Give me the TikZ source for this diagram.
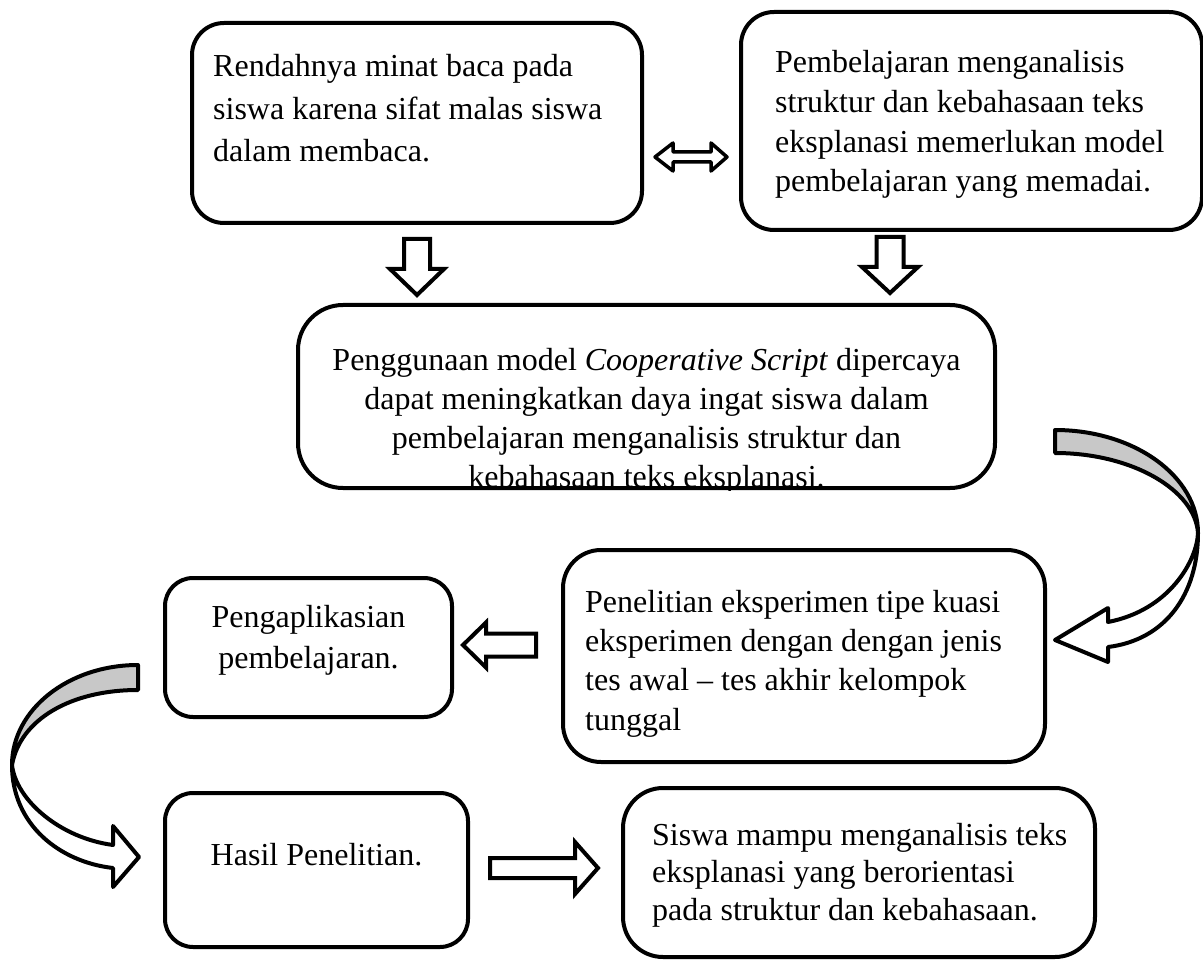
\documentclass[tikz,border=0pt]{standalone}
\usepackage{fontspec}
\setmainfont{Liberation Serif}
\usetikzlibrary{calc}
\definecolor{arrgray}{RGB}{200,200,200}
\tikzset{
  pics/blkarr/.style args={#1/#2/#3/#4}{code={%
    \draw[blk] (0,-#2) -- ({#1-#4},-#2) -- ({#1-#4},-#3) -- (#1,0) -- ({#1-#4},#3) -- ({#1-#4},#2) -- (0,#2) -- cycle;}}
}
\begin{document}
\begin{tikzpicture}[x=1pt,y=1pt,
  box/.style={draw, line width=4pt, rounded corners=#1, inner sep=0pt, fill=none},
  box/.default=30pt,
  txt/.style={inner sep=0pt, font=\fontsize{32}{#1}\selectfont},
  txt/.default=41pt,
  blk/.style={draw, line width=4pt, fill=white, line join=miter},
  curv/.style={draw, line width=4pt, line join=round}
]
\useasboundingbox (0,0) rectangle (1203,-960);

% ---- boxes ----
\node[box=32pt, minimum width=450pt, minimum height=200pt] (b1) at (417,-123) {};
\node[box=33pt, minimum width=461pt, minimum height=218pt] (b2) at (971.5,-121) {};
\node[box=45pt, minimum width=697pt, minimum height=183pt] (b3) at (646.5,-396.5) {};
\node[box=38pt, minimum width=482pt, minimum height=212pt] (b4) at (804,-656) {};
\node[box=28pt, minimum width=287pt, minimum height=139pt] (b5) at (308.5,-647.5) {};
\node[box=28pt, minimum width=303pt, minimum height=154pt] (b6) at (316.5,-870) {};
\node[box=40pt, minimum width=472pt, minimum height=169pt] (b7) at (859,-872.5) {};

% ---- texts (anchor base = baseline of last line) ----
\node[txt=42.5pt, anchor=base west, align=left] (t1) at (213,-162)
  {Rendahnya minat baca pada\\siswa karena sifat malas siswa\\dalam membaca.};
\node[txt=39.7pt, anchor=base west, align=left] (t2) at (775,-192)
  {Pembelajaran menganalisis\\struktur dan kebahasaan teks\\eksplanasi memerlukan model\\pembelajaran yang memadai.};
\begin{scope}
  \clip (b3.south west) rectangle (b3.north east);
  \node[txt=39pt, anchor=base, align=center] (t3) at (646.5,-487)
    {Penggunaan model \textit{Cooperative Script} dipercaya\\dapat meningkatkan daya ingat siswa dalam\\pembelajaran menganalisis struktur dan\\kebahasaan teks eksplanasi.};
\end{scope}
\node[txt=39.3pt, anchor=base west, align=left] (t4) at (585,-730)
  {Penelitian eksperimen tipe kuasi\\eksperimen dengan dengan jenis\\tes awal -- tes akhir kelompok\\tunggal};
\node[txt=41pt, anchor=base, align=center] (t5) at (308.5,-668)
  {Pengaplikasian\\pembelajaran.};
\node[txt=41pt, anchor=base] (t6) at (316.5,-865) {Hasil Penelitian.};
\node[txt=37.5pt, anchor=base west, align=left] (t7) at (652,-920)
  {Siswa mampu menganalisis teks\\eksplanasi yang berorientasi\\pada struktur dan kebahasaan.};

% ---- block arrows ----
\coordinate (a1) at ($(b1.south)+(0,-14)$);
\coordinate (a2) at (890,-237);
\coordinate (a3) at ($(b4.west)+(-25,11)$);
\coordinate (a4) at ($(b6.east)+(20,2)$);
\pic[rotate=-90] at (a1) {blkarr=56/13/27/26};
\pic[rotate=-90] at (a2) {blkarr=56/13.5/28/26};
\pic[rotate=180] at (a3) {blkarr=73/11.5/22.5/23};
\pic at (a4) {blkarr=108/10/26/23};

% ---- double arrow between b1 and b2 ----
\coordinate (dL) at (655,-157);
\coordinate (dR) at (727,-157);
\draw[line width=3.5pt, line join=round, fill=white]
  (dL) -- ++(18,14) -- ++(0,-9) -- ($(dR)+(-16,5)$) -- ++(0,9) -- (dR)
  -- ++(-16,-14) -- ++(0,9) -- ($(dL)+(18,-5)$) -- ++(0,-9) -- cycle;

% ---- curved arrow right (b3 -> b4) ----
\coordinate (cR1) at (1055,-430);
\coordinate (cR2) at (1055,-640);
\draw[curv, fill=arrgray] (cR1) .. controls (1134,-430) and (1198,-476) .. (1198,-533)
  .. controls (1195,-490) and (1132,-453) .. (1055,-453) -- cycle;
\draw[curv, fill=white] (1198,-533) .. controls (1198,-595) and (1165,-640) .. (1108,-647)
  -- (1108,-662) -- (cR2) -- (1108,-608) -- (1108,-622)
  .. controls (1170,-610) and (1197,-560) .. (1198,-533) -- cycle;

% ---- curved arrow left (b5 -> b6) ----
\coordinate (cL1) at (138,-665);
\coordinate (cL2) at (139,-857);
\draw[curv, fill=arrgray] (cL1) .. controls (68,-665) and (12,-710) .. (12,-765)
  .. controls (20,-720) and (70,-690) .. (138,-690) -- cycle;
\draw[curv, fill=white] (12,-765) .. controls (12,-825) and (60,-862) .. (113,-868)
  -- (113,-887) -- (cL2) -- (113,-826) -- (113,-845)
  .. controls (60,-838) and (16,-800) .. (12,-765) -- cycle;
\end{tikzpicture}
\end{document}
